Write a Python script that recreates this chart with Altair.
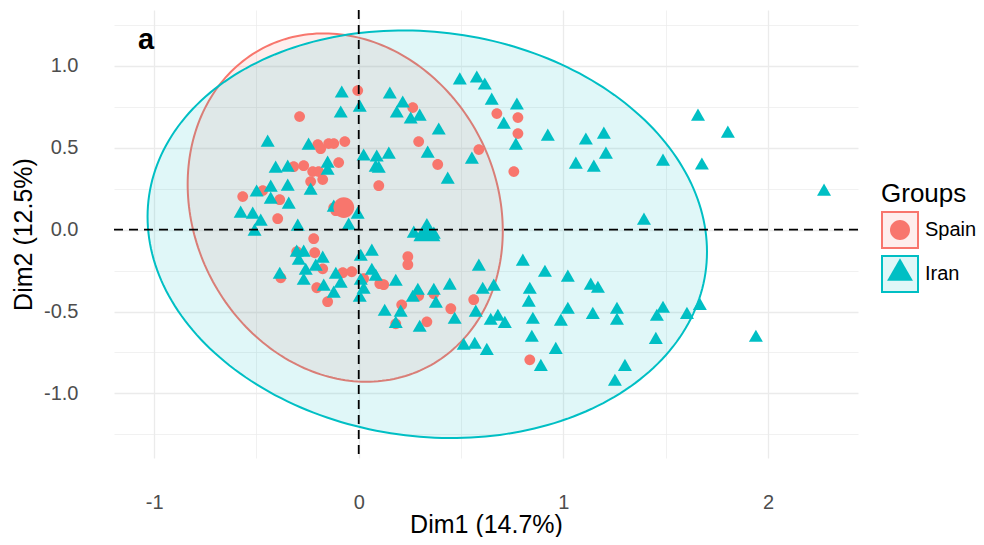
import altair as alt
import numpy as np
import pandas as pd

groups = ["Spain", "Iran"]
colors = ["#F8766D", "#00BFC4"]
fills = ["rgba(248,118,109,0.12)", "rgba(0,191,196,0.12)"]

spain_x = [-0.005, -0.289, -0.200, -0.186, -0.147, -0.122, -0.068, -0.098, -0.318, -0.269,
           -0.225, -0.196, -0.176, -0.235, -0.567, -0.469, -0.386, -0.112, -0.396, 0.098,
           0.264, 0.293, 0.386, 0.587, 0.675, 0.778, 0.778, 0.758, -0.220, -0.215,
           -0.303, -0.381, -0.176, -0.205, -0.152, -0.078, -0.034, 0.024, 0.103, 0.240,
           0.240, 0.122, 0.210, 0.181, 0.293, 0.367, 0.450, 0.333, 0.562, 0.836, -0.122]
spain_y = [0.850, 0.691, 0.520, 0.495, 0.526, 0.526, 0.538, 0.410, 0.385, 0.391,
           0.355, 0.355, 0.306, 0.294, 0.202, 0.239, 0.183, 0.116, 0.067, 0.269,
           0.746, 0.538, 0.398, 0.489, 0.709, 0.685, 0.587, 0.355, -0.055, -0.141,
           -0.135, -0.294, -0.239, -0.355, -0.440, -0.263, -0.257, -0.300, -0.330, -0.165,
           -0.214, -0.336, -0.459, -0.575, -0.404, -0.391, -0.483, -0.563, -0.428, -0.795, 0.135]

iran_x = [-0.083, -0.088, 0.005, -0.445, -0.245, 0.024, 0.088, 0.083, -0.152, -0.152,
          -0.406, -0.347, -0.347, -0.235, -0.499, -0.430, -0.430, -0.342, -0.577, -0.518,
          -0.479, -0.509, -0.298, -0.049, -0.005, -0.122,
          0.152, 0.215, 0.186, 0.254, 0.298, 0.391, 0.147, 0.098, 0.337, 0.435,
          0.553, 0.494, 0.577, 0.616, 0.650, 0.709, 0.773, 0.768, 0.924, 1.110,
          1.198, 1.061, 1.149, 1.208, 1.487, 1.658, 1.804, 1.677, 2.274, 1.394,
          0.269, 0.367,
          -0.386, -0.303, -0.269, -0.293, -0.176, -0.259, -0.269, -0.210, -0.112, -0.088,
          -0.171, -0.122, 0.010, 0.064, 0.064, 0.083, 0.010, 0.024, 0.005,
          0.181, 0.289, 0.264, 0.367, 0.445, 0.377, 0.127, 0.205, 0.181, 0.298,
          0.469, 0.572, 0.587, 0.606, 0.660, 0.645, 0.680, 0.714, 0.513, 0.567, 0.626,
          0.802, 0.910, 1.022, 1.134, 1.169, 0.836, 0.831, 0.851, 1.022, 0.988,
          1.144, 1.262, 1.262, 0.846, 0.963, 0.890, 1.252, 1.301, 1.452, 1.487,
          1.457, 1.604, 1.667, 1.941]
iran_y = [0.844, 0.722, 0.758, 0.544, 0.526, 0.459, 0.453, 0.391, 0.416, 0.373,
          0.385, 0.391, 0.275, 0.251, 0.239, 0.269, 0.196, 0.165, 0.110, 0.104,
          0.061, 0.000, 0.031, 0.037, 0.104, 0.147,
          0.838, 0.783, 0.722, 0.685, 0.703, 0.618, 0.471, 0.385, 0.477, 0.318,
          0.440, 0.924, 0.936, 0.893, 0.801, 0.654, 0.771, 0.526, 0.581, 0.557,
          0.593, 0.410, 0.391, 0.471, 0.428, 0.703, 0.599, 0.404, 0.245, 0.067,
          -0.012, -0.018,
          -0.263, -0.128, -0.128, -0.177, -0.165, -0.239, -0.300, -0.214, -0.263, -0.318,
          -0.336, -0.379, -0.153, -0.122, -0.239, -0.275, -0.300, -0.355, -0.404,
          -0.306, -0.361, -0.404, -0.361, -0.330, -0.440, -0.489, -0.495, -0.563, -0.587,
          -0.538, -0.495, -0.214, -0.355, -0.336, -0.544, -0.520, -0.563, -0.697, -0.691, -0.728,
          -0.183, -0.251, -0.281, -0.330, -0.349, -0.355, -0.434, -0.538, -0.477, -0.550,
          -0.508, -0.477, -0.544, -0.648, -0.722, -0.826, -0.917, -0.826, -0.661, -0.471,
          -0.520, -0.508, -0.453, -0.648]

mean_x = [-0.073, 0.333]
mean_y = [0.135, 0.000]

# concentration ellipses: centre, horizontal / vertical half-extent, covariance term
ell_cx = [-0.066, 0.335]
ell_cy = [0.135, -0.028]
ell_sx = [0.770, 1.367]
ell_sy = [1.064, 1.245]
ell_cov = [-0.110, -0.146]

x_ticks = [-1, -0.5, 0, 0.5, 1, 1.5, 2]
y_ticks = [-1.25, -1.0, -0.75, -0.5, -0.25, 0.0, 0.25, 0.5, 0.75, 1.0, 1.25]
x_domain = [-1.196, 2.44]
y_domain = [-1.395, 1.342]

points = pd.DataFrame({
    "Group": ["Spain"] * len(spain_x) + ["Iran"] * len(iran_x),
    "Dim1": spain_x + iran_x,
    "Dim2": spain_y + iran_y,
})
means = pd.DataFrame({"Group": groups, "Dim1": mean_x, "Dim2": mean_y})

t = np.linspace(0, 2 * np.pi, 241)
rows = []
for g, cx, cy, sx, sy, cv in zip(groups, ell_cx, ell_cy, ell_sx, ell_sy, ell_cov):
    k = cv / sx
    m = np.sqrt(sy ** 2 - k ** 2)
    xs = cx + sx * np.cos(t)
    ys = cy + k * np.cos(t) + m * np.sin(t)
    for i, (a, b) in enumerate(zip(xs, ys)):
        rows.append({"Grp": g, "Dim1": float(a), "Dim2": float(b), "idx": i})
ell = pd.DataFrame(rows)

circle_path = "M0,-0.556A0.556,0.556,0,1,1,0,0.556A0.556,0.556,0,1,1,0,-0.556Z"
triangle_path = "M0,-0.625L0.72,0.625L-0.72,0.625Z"

FONT = "Liberation Sans"

xaxis = alt.Axis(
    values=x_ticks,
    labelExpr="datum.value == round(datum.value) ? '' + datum.value : ''",
    gridWidth={"condition": {"test": "datum.value == round(datum.value)", "value": 1.3}, "value": 0.7},
    title="Dim1 (14.7%)",
    labelPadding=34, titlePadding=0,
)
yaxis = alt.Axis(
    values=y_ticks,
    labelExpr="datum.value * 2 == round(datum.value * 2) ? replace(format(datum.value, '.1f'), '\u2212', '-') : ''",
    gridWidth={"condition": {"test": "datum.value * 2 == round(datum.value * 2)", "value": 1.3}, "value": 0.7},
    title="Dim2 (12.5%)",
    labelPadding=36, titlePadding=7,
)
xscale = alt.Scale(domain=x_domain, nice=False, zero=False)
yscale = alt.Scale(domain=y_domain, nice=False, zero=False)
X = alt.X("Dim1:Q", scale=xscale, axis=xaxis)
Y = alt.Y("Dim2:Q", scale=yscale, axis=yaxis)

leg_common = dict(
    orient="none", legendX=767, legendY=171, title="Groups",
    symbolSize=1296, symbolStrokeWidth=2, labelOffset=6,
    titlePadding=4, padding=0, labelFontSize=20, titleFontSize=26,
    labelFont=FONT, titleFont=FONT, titleFontWeight="normal",
    labelColor="black", titleColor="black",
)
legA = alt.Legend(symbolType="square", symbolFillColor="white", symbolStrokeColor="gray",
                  rowPadding=0, **leg_common)
legB = alt.Legend(titleOpacity=0, labelOpacity=0, symbolStrokeColor="transparent", zindex=1,
                  rowPadding=5.5, **leg_common)

ellipses = alt.Chart(ell).mark_line(strokeWidth=2).encode(
    x=X, y=Y,
    fill=alt.Fill("Grp:N", sort="descending", scale=alt.Scale(range=fills), legend=legA),
    stroke=alt.Stroke("Grp:N", sort="descending", scale=alt.Scale(range=colors), legend=legA),
    order=alt.Order("idx:Q"),
)

color_enc = alt.Color("Group:N", scale=alt.Scale(domain=groups, range=colors), legend=legB)
shape_enc = alt.Shape("Group:N", scale=alt.Scale(domain=groups, range=[circle_path, triangle_path]), legend=legB)

pts = alt.Chart(points).mark_point(filled=True, size=378, opacity=1).encode(
    x=X, y=Y, color=color_enc, shape=shape_enc,
)
mpts = alt.Chart(means).mark_point(filled=True, size=1400, opacity=1).encode(
    x=X, y=Y, color=color_enc, shape=shape_enc,
)

zero_df = pd.DataFrame({"Dim1": [0.0], "Dim2": [0.0]})
hline = alt.Chart(zero_df).mark_rule(color="black", strokeDash=[9, 6], strokeWidth=1.8).encode(y=Y)
vline = alt.Chart(zero_df).mark_rule(color="black", strokeDash=[9, 6], strokeWidth=1.8).encode(x=X)

chart = alt.layer(ellipses, pts, mpts, hline, vline).properties(
    width=744, height=448,
    background="white",
    title=alt.TitleParams(text="a", anchor="start", frame="group", fontSize=29,
                          fontWeight="bold", font=FONT, color="black",
                          baseline="top", offset=0, dx=24, dy=46),
    padding={"left": 106, "top": 2, "right": 118, "bottom": 79},
    autosize=alt.AutoSizeParams(type="none"),
).configure_view(strokeWidth=0, stroke="transparent").configure_axis(
    gridColor="#EBEBEB", domain=False, ticks=False, tickSize=0,
    labelFont=FONT, labelFontSize=20, labelColor="#4D4D4D",
    titleFont=FONT, titleFontSize=25, titleColor="black", titleFontWeight="normal",
)

chart.save("out.html", embed_options={"renderer": "svg", "actions": False})
